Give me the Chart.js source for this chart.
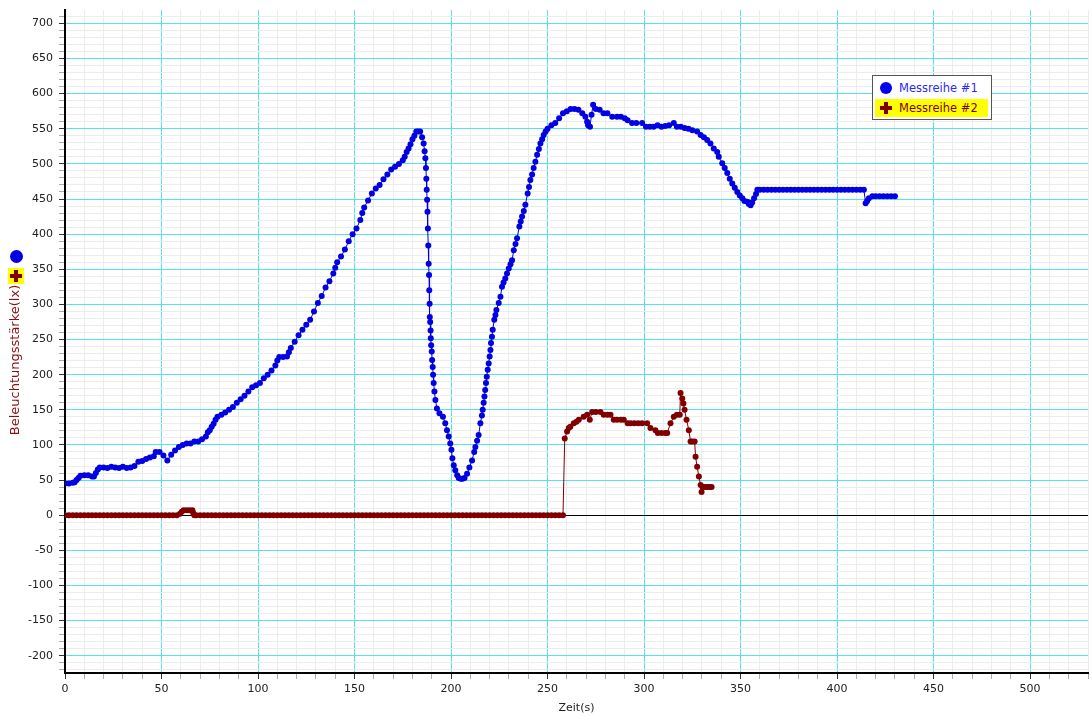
<!DOCTYPE html>
<html>
<head>
<meta charset="utf-8">
<script src="https://cdn.jsdelivr.net/npm/chart.js@4/dist/chart.umd.min.js"></script>
<style>
  body { margin: 0; background: #fff; overflow: hidden; }
  #wrap { position: relative; width: 1092px; height: 716px; }
  #legend { position: absolute; left: 872px; top: 75px; width: 120px; height: 45px; border: 1px solid #555; background: #fff; box-sizing: border-box; font-family: "DejaVu Sans", Verdana, sans-serif; font-size: 11.5px; }
  .row { position: absolute; left: 2px; width: 113px; height: 18px; line-height: 18px; }
  .row span { position: absolute; left: 24px; top: 0; }
  .dot { position: absolute; left: 5px; top: 3px; width: 12px; height: 12px; border-radius: 50%; background: #0000ee; }
  .plus { position: absolute; left: 5px; top: 3px; width: 12px; height: 12px; }
  .plus:before, .plus:after { content: ""; position: absolute; background: #800000; }
  .plus:before { left: 4px; top: 0; width: 4px; height: 12px; }
  .plus:after { left: 0; top: 4px; width: 12px; height: 4px; }
</style>
</head>
<body>
<div id="wrap">
  <canvas id="lightChart" width="1092" height="716"></canvas>
  <div id="legend">
    <div class="row" style="top:3px;color:#2a2aff"><div class="dot"></div><span>Messreihe #1</span></div>
    <div class="row" style="top:23px;background:#ffff00;color:#800000"><div class="plus"></div><span>Messreihe #2</span></div>
  </div>
</div>
<script>
// ==================== Messreihe data ====================
const seriesNames = ['Messreihe #1', 'Messreihe #2'];
const axisTitleX = 'Zeit(s)';
const axisTitleY = 'Beleuchtungsstärke(lx)';

// Messreihe #1 - time (s)
const times1 = [
    0, 2, 4, 5, 6, 7, 8, 10, 12, 14,
    15, 16, 17, 18, 20, 22, 24, 26, 28, 30,
    32, 34, 36, 38, 40, 42, 44, 46, 47, 49,
    51, 53, 55, 57, 59, 61, 63, 65, 67, 69,
    71, 73, 74, 75, 76, 77, 78, 79, 81, 83,
    85, 87, 89, 91, 93, 95, 97, 99, 101, 103,
    105, 107, 109, 110, 111, 113, 115, 116, 117, 119,
    121, 123, 125, 127, 129, 131, 133, 135, 137, 139,
    140, 141, 143, 145, 147, 149, 151, 153, 154, 155,
    157, 159, 161, 163, 165, 167, 169, 171, 173, 175,
    176, 177, 178, 179, 180, 181, 182, 183, 184, 185,
    185.8, 186.3, 186.7, 187, 187.2, 187.4, 187.6, 187.8, 188, 188.2,
    188.4, 188.6, 188.7, 188.9, 189, 189.2, 189.4, 189.5, 189.7, 190,
    190.2, 190.5, 190.7, 191, 191.4, 191.9, 192.7, 194, 195.8, 197,
    197.9, 198.8, 199.6, 200.2, 200.7, 201.4, 202.2, 203.2, 204, 205,
    206, 207, 208.3, 209.5, 210.9, 212, 212.6, 213.5, 214.3, 215.2,
    216, 216.4, 216.9, 217.3, 217.7, 218.1, 218.5, 219, 219.5, 220,
    220.4, 220.7, 221.2, 221.6, 222.4, 223, 223.5, 224.7, 225.6, 226.4,
    227.2, 228.1, 229, 229.9, 230.8, 231.6, 232.5, 233.4, 234.2, 235.4,
    236.1, 236.8, 237.7, 238.5, 239.7, 240.4, 241.1, 242, 242.8, 243.7,
    244.6, 245.5, 246.3, 247.2, 248, 249, 250, 252, 254, 256,
    258, 260, 262, 264, 266, 268, 269.6, 270.5, 271, 272,
    272.8, 273.6, 275, 277, 279, 281, 283.5, 286, 288, 290,
    291.5, 293.8, 296, 299, 301, 303, 305, 307, 309, 311,
    313, 315.4, 317, 319, 321, 323, 325, 327.5, 329.3, 331,
    332.7, 334.4, 336.1, 337.9, 338.7, 340.5, 341.8, 343.1, 344.4, 345.7,
    347, 348.3, 349.6, 350.9, 352, 353.5, 354.3, 355.2, 356, 357,
    358, 358.7, 360, 362, 364, 366, 368, 370, 372, 374,
    376, 378, 380, 382, 384, 386, 388, 390, 392, 394,
    396, 398, 400, 402, 404, 406, 408, 410, 412, 413.9,
    414.8, 415.6, 416.5, 418.3, 420, 422, 424, 426, 428, 430
];
// Messreihe #1 - lux
const lux1 = [
    45, 45, 46, 47, 50, 53, 56, 57, 57, 55,
    55, 60, 65, 68, 68, 67, 69, 68, 67, 69,
    67, 68, 70, 76, 77, 80, 82, 84, 90, 90,
    85, 78, 86, 92, 97, 100, 102, 102, 105, 105,
    108, 112, 118, 121, 126, 130, 136, 140, 143, 146,
    150, 154, 160, 165, 170, 176, 182, 185, 188, 195,
    200, 206, 213, 220, 225, 225, 226, 232, 238, 247,
    256, 264, 271, 278, 290, 302, 312, 324, 333, 344,
    352, 360, 368, 378, 390, 400, 408, 420, 430, 438,
    448, 458, 465, 470, 478, 485, 492, 496, 500, 505,
    510, 517, 522, 528, 535, 540, 546, 546, 546, 538,
    529, 518, 508, 494, 479, 463, 449, 432, 408, 384,
    358, 342, 320, 301, 282, 275, 263, 252, 242, 233,
    221, 211, 200, 188, 176, 164, 152, 145, 140, 131,
    121, 112, 102, 93, 81, 71, 64, 57, 53, 52,
    52, 53, 59, 68, 78, 90, 97, 106, 114, 131,
    142, 150, 160, 169, 178, 188, 197, 207, 216, 226,
    235, 245, 254, 264, 278, 285, 292, 302, 311, 325,
    331, 337, 344, 351, 357, 363, 377, 386, 394, 411,
    418, 425, 433, 442, 458, 467, 477, 485, 494, 503,
    513, 521, 529, 535, 541, 546, 550, 555, 558, 565,
    572, 575, 578, 578, 577, 572, 567, 560, 555, 553,
    570, 584, 578, 577, 572, 572, 567, 567, 567, 565,
    562, 558, 558, 558, 553, 553, 553, 555, 553, 554,
    555, 558, 553, 553, 551, 550, 548, 546, 541, 538,
    534, 529, 522, 517, 510, 501, 494, 487, 479, 472,
    466, 460, 455, 451, 447, 446, 443, 441, 445, 451,
    457, 463, 463, 463, 463, 463, 463, 463, 463, 463,
    463, 463, 463, 463, 463, 463, 463, 463, 463, 463,
    463, 463, 463, 463, 463, 463, 463, 463, 463, 463,
    444, 447, 451, 454, 454, 454, 454, 454, 454, 454
];

// Messreihe #2 - time (s)
const times2 = [
    0, 2, 4, 6, 8, 10, 12, 14, 16, 18,
    20, 22, 24, 26, 28, 30, 32, 34, 36, 38,
    40, 42, 44, 46, 48, 50, 52, 54, 56, 58,
    59.6, 60.5, 61.5, 63, 64.5, 66, 66.4, 67, 68, 70,
    72, 74, 76, 78, 80, 82, 84, 86, 88, 90,
    92, 94, 96, 98, 100, 102, 104, 106, 108, 110,
    112, 114, 116, 118, 120, 122, 124, 126, 128, 130,
    132, 134, 136, 138, 140, 142, 144, 146, 148, 150,
    152, 154, 156, 158, 160, 162, 164, 166, 168, 170,
    172, 174, 176, 178, 180, 182, 184, 186, 188, 190,
    192, 194, 196, 198, 200, 202, 204, 206, 208, 210,
    212, 214, 216, 218, 220, 222, 224, 226, 228, 230,
    232, 234, 236, 238, 240, 242, 244, 246, 248, 250,
    252, 254, 256, 258, 258.9, 260.1, 261, 261.8, 263.6, 265,
    266.2, 268.7, 270.5, 271.9, 273.1, 275, 277.4, 279.1, 281, 282.6,
    284.3, 286, 288, 289.5, 291.5, 293, 295, 297, 299, 301.6,
    303.3, 305.9, 307.1, 309, 311, 312, 313.7, 315.4, 317, 318.5,
    318.9, 319.8, 320.4, 321, 322, 323.2, 324.1, 325, 326.2, 326.7,
    327.5, 328.4, 329.3, 329.8, 330.3, 331, 332, 333, 334, 335
];
// Messreihe #2 - lux
const lux2 = [
    0, 0, 0, 0, 0, 0, 0, 0, 0, 0,
    0, 0, 0, 0, 0, 0, 0, 0, 0, 0,
    0, 0, 0, 0, 0, 0, 0, 0, 0, 0,
    2, 5, 7, 7, 7, 7, 3, 0, 0, 0,
    0, 0, 0, 0, 0, 0, 0, 0, 0, 0,
    0, 0, 0, 0, 0, 0, 0, 0, 0, 0,
    0, 0, 0, 0, 0, 0, 0, 0, 0, 0,
    0, 0, 0, 0, 0, 0, 0, 0, 0, 0,
    0, 0, 0, 0, 0, 0, 0, 0, 0, 0,
    0, 0, 0, 0, 0, 0, 0, 0, 0, 0,
    0, 0, 0, 0, 0, 0, 0, 0, 0, 0,
    0, 0, 0, 0, 0, 0, 0, 0, 0, 0,
    0, 0, 0, 0, 0, 0, 0, 0, 0, 0,
    0, 0, 0, 0, 109, 119, 124, 126, 131, 133,
    136, 140, 143, 136, 147, 147, 147, 143, 143, 143,
    136, 136, 136, 136, 131, 131, 131, 131, 131, 131,
    124, 121, 117, 117, 117, 117, 131, 140, 143, 143,
    174, 166, 159, 150, 136, 121, 105, 105, 105, 83,
    69, 55, 43, 33, 40, 40, 40, 40, 40, 40
];

// Axis ranges and grid
const xRange = [0, 530];
const yRange = [-224.6, 719];
const gridStep = 10;
const labelStep = 50;

const COLOR_MAJOR = '#55e2ee';
const COLOR_MINOR = '#ececec';
const BLUE = '#0000e0';
const DARK_RED = '#800000';

Chart.defaults.font.family = '"DejaVu Sans", Verdana, sans-serif';
Chart.defaults.font.size = 11;
Chart.defaults.color = '#222';

function toPoints(xs, ys) {
    return xs.map((x, i) => ({ x: x, y: ys[i] }));
}

function gridTicks(min, max) {
    const ticks = [];
    for (let v = Math.ceil(min / gridStep) * gridStep; v <= max; v += gridStep) {
        ticks.push({ value: v });
    }
    return ticks;
}

function isMajor(c) {
    return c.tick && Math.abs(c.tick.value % labelStep) < 1e-6;
}

// Series markers + rotated title left of the y axis
const yAxisSidePlugin = {
    id: 'yAxisSide',
    afterDraw(chart) {
        const ctx = chart.ctx;
        ctx.save();
        // blue dot
        ctx.fillStyle = BLUE;
        ctx.beginPath();
        ctx.arc(16.5, 256.5, 6.5, 0, Math.PI * 2);
        ctx.fill();
        // yellow box with plus
        ctx.fillStyle = '#ffff00';
        ctx.fillRect(8, 268, 16, 16);
        ctx.fillStyle = DARK_RED;
        ctx.fillRect(14, 270, 4, 12);
        ctx.fillRect(10, 274, 12, 4);
        // title
        ctx.translate(16, 360);
        ctx.rotate(-Math.PI / 2);
        ctx.font = '13px "DejaVu Sans", Verdana, sans-serif';
        ctx.fillStyle = '#8b1010';
        ctx.textAlign = 'center';
        ctx.textBaseline = 'middle';
        ctx.fillText(axisTitleY, 0, 0);
        ctx.restore();
    }
};

const lineChart = new Chart(document.getElementById('lightChart'), {
    type: 'scatter',
    data: {
        datasets: [
            {
                label: seriesNames[0],
                data: toPoints(times1, lux1),
                showLine: true,
                borderColor: BLUE,
                borderWidth: 1,
                pointRadius: 3,
                pointBorderWidth: 0,
                pointBackgroundColor: BLUE
            },
            {
                label: seriesNames[1],
                data: toPoints(times2, lux2),
                showLine: true,
                borderColor: DARK_RED,
                borderWidth: 1,
                pointRadius: 3,
                pointBorderWidth: 0,
                pointBackgroundColor: DARK_RED
            }
        ]
    },
    options: {
        responsive: false,
        animation: false,
        layout: { padding: { top: 10, right: 0, bottom: 0, left: 0 } },
        plugins: { legend: { display: false }, tooltip: { enabled: false } },
        scales: {
            x: {
                type: 'linear',
                min: xRange[0],
                max: xRange[1],
                afterBuildTicks: s => { s.ticks = gridTicks(xRange[0], xRange[1]); },
                afterFit: s => { s.height = 43; },
                border: { color: '#000', width: 2 },
                grid: {
                    color: c => isMajor(c) ? COLOR_MAJOR : COLOR_MINOR,
                    tickColor: c => isMajor(c) ? '#333' : '#aaa',
                    tickLength: 6
                },
                ticks: {
                    autoSkip: false,
                    maxRotation: 0,
                    padding: 4,
                    callback: v => v % labelStep === 0 ? v : ''
                },
                title: { display: true, text: axisTitleX, padding: { top: 0, bottom: 1 }, font: { size: 11 } }
            },
            y: {
                min: yRange[0],
                max: yRange[1],
                afterBuildTicks: s => { s.ticks = gridTicks(yRange[0], yRange[1]); },
                afterFit: s => { s.width = 65; s.paddingTop = 0; s.paddingBottom = 0; },
                border: { color: '#000', width: 2 },
                grid: {
                    color: c => {
                        if (!c.tick) return COLOR_MINOR;
                        if (c.tick.value === 0) return '#000';
                        return isMajor(c) ? COLOR_MAJOR : COLOR_MINOR;
                    },
                    tickColor: c => isMajor(c) ? '#333' : '#aaa',
                    tickLength: 6
                },
                ticks: {
                    autoSkip: false,
                    padding: 6,
                    callback: v => v % labelStep === 0 ? v : ''
                }
            }
        }
    },
    plugins: [yAxisSidePlugin]
});
</script>
</body>
</html>
